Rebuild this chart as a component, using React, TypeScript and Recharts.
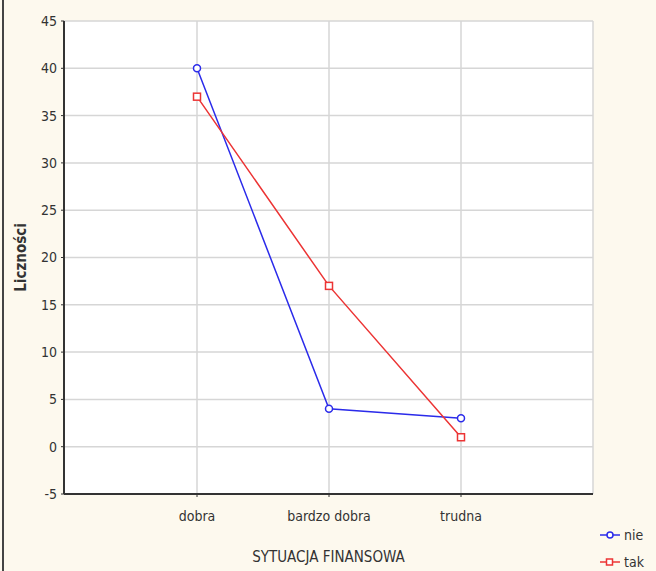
import React from 'react';
import { LineChart, Line, XAxis, YAxis, CartesianGrid } from 'recharts';

const categories = ['dobra', 'bardzo dobra', 'trudna'];
const nieValues = [40, 4, 3];
const takValues = [37, 17, 1];
const yTicks = [-5, 0, 5, 10, 15, 20, 25, 30, 35, 40, 45];

const FONT = "'Liberation Sans Narrow', 'Arial Narrow', 'DejaVu Sans Condensed', 'Liberation Sans', sans-serif";
const BLUE = '#2b2bea';
const RED = '#ec3434';

const data = categories.map((c, i) => ({ cat: c, nie: nieValues[i], tak: takValues[i] }));

const SquareDot = (props: any) => {
  const { cx, cy, index } = props;
  if (cx == null || cy == null) return null;
  return <rect key={'sq' + index} x={cx - 3.5} y={cy - 3.5} width={7} height={7} fill="#fff" stroke={RED} strokeWidth={1.5} />;
};

const CircleDot = (props: any) => {
  const { cx, cy, index } = props;
  if (cx == null || cy == null) return null;
  return <circle key={'c' + index} cx={cx} cy={cy} r={3.5} fill="#fff" stroke={BLUE} strokeWidth={1.5} />;
};

const LegendRow = ({ color, label, square }: { color: string; label: string; square?: boolean }) => (
  <div style={{ display: 'flex', alignItems: 'center', height: 27 }}>
    <svg width={20} height={10} style={{ marginRight: 4 }}>
      <line x1={0} y1={5} x2={20} y2={5} stroke={color} strokeWidth={1.5} />
      {square ? (
        <rect x={6.5} y={2} width={6} height={6} fill="#fff" stroke={color} strokeWidth={1.5} />
      ) : (
        <circle cx={10} cy={5} r={3} fill="#fff" stroke={color} strokeWidth={1.5} />
      )}
    </svg>
    <span style={{ fontFamily: FONT, fontSize: 14, color: '#333' }}>{label}</span>
  </div>
);

const App = () => {
  return (
    <div
      style={{
        position: 'absolute',
        left: 0,
        top: 0,
        width: 656,
        height: 571,
        background: '#fdf9ee',
        overflow: 'hidden',
      }}
    >
      <div style={{ position: 'absolute', left: 2, top: 0, width: 2, height: 571, background: '#444' }} />
      <LineChart
        width={656}
        height={571}
        data={data}
        margin={{ top: 21, right: 63, bottom: 0, left: 0 }}
        style={{ fontFamily: FONT }}
      >
        <CartesianGrid stroke="#d6d6d6" strokeWidth={1.5} fill="#ffffff" />
        <XAxis
          dataKey="cat"
          height={77}
          padding={{ left: 133, right: 132 }}
          interval={0}
          axisLine={{ stroke: '#333', strokeWidth: 2 }}
          tickLine={{ stroke: '#333' }}
          tickSize={3}
          tickMargin={14}
          tick={{ fontSize: 14, fill: '#333' }}
          label={{ value: 'SYTUACJA FINANSOWA', position: 'insideBottom', offset: 9, fontSize: 15, fill: '#333' }}
        />
        <XAxis
          xAxisId="top"
          orientation="top"
          dataKey="cat"
          height={0}
          padding={{ left: 133, right: 132 }}
          axisLine={{ stroke: '#333', strokeWidth: 2 }}
          tick={false}
        />
        <YAxis
          width={64}
          domain={[-5, 45]}
          ticks={yTicks}
          interval={0}
          axisLine={{ stroke: '#333', strokeWidth: 2 }}
          tickLine={{ stroke: '#333' }}
          tickSize={3}
          tickMargin={4}
          tick={{ fontSize: 14, fill: '#333' }}
          label={{
            value: 'Liczności',
            angle: -90,
            position: 'insideLeft',
            offset: 21,
            style: { textAnchor: 'middle', fontWeight: 'bold', fontSize: 15, fill: '#333' },
          }}
        />
        <YAxis
          yAxisId="right"
          orientation="right"
          width={0}
          domain={[-5, 45]}
          ticks={yTicks}
          axisLine={{ stroke: '#333', strokeWidth: 2 }}
          tick={false}
        />
        <Line
          type="linear"
          dataKey="nie"
          stroke={BLUE}
          strokeWidth={1.5}
          dot={CircleDot}
          activeDot={false}
          isAnimationActive={false}
        />
        <Line
          type="linear"
          dataKey="tak"
          stroke={RED}
          strokeWidth={1.5}
          dot={SquareDot}
          activeDot={false}
          isAnimationActive={false}
        />
      </LineChart>
      <div style={{ position: 'absolute', left: 600, top: 521 }}>
        <LegendRow color={BLUE} label="nie" />
        <LegendRow color={RED} label="tak" square />
      </div>
    </div>
  );
};

export default App;
